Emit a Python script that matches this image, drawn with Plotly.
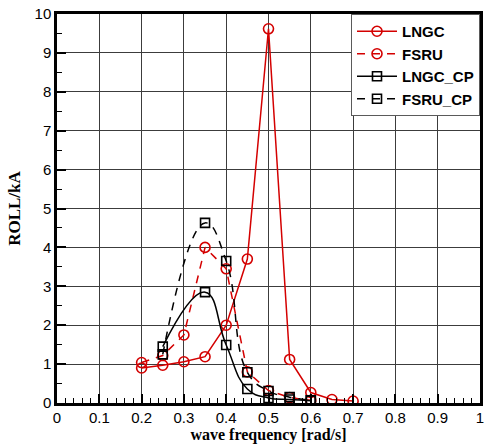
import plotly.graph_objects as go

freq_lngc = [0.2, 0.25, 0.3, 0.35, 0.4, 0.45, 0.5, 0.55, 0.6, 0.65, 0.7]
roll_lngc = [0.9, 0.97, 1.06, 1.19, 2.0, 3.7, 9.62, 1.12, 0.27, 0.09, 0.05]

freq_fsru = [0.2, 0.25, 0.3, 0.35, 0.4, 0.45, 0.5, 0.55, 0.6]
roll_fsru = [1.04, 1.22, 1.75, 4.0, 3.45, 0.8, 0.32, 0.14, 0.07]

freq_cp = [0.25, 0.35, 0.4, 0.45, 0.5, 0.55, 0.6]
roll_lngc_cp = [1.45, 2.85, 1.49, 0.36, 0.13, 0.09, 0.06]
roll_fsru_cp = [1.25, 4.63, 3.65, 0.79, 0.31, 0.15, 0.07]

x_ticks = [0, 0.1, 0.2, 0.3, 0.4, 0.5, 0.6, 0.7, 0.8, 0.9, 1]
x_tick_labels = ["0", "0.1", "0.2", "0.3", "0.4", "0.5", "0.6", "0.7", "0.8", "0.9", "1"]

RED = "rgb(212,0,0)"
BLACK = "black"

fig = go.Figure()
fig.add_trace(go.Scatter(
    x=freq_lngc, y=roll_lngc, name="LNGC", mode="lines+markers",
    line=dict(color=RED, width=1.5),
    marker=dict(symbol="circle-open", size=10, color=RED, line=dict(width=1.6, color=RED)),
))
fig.add_trace(go.Scatter(
    x=freq_fsru, y=roll_fsru, name="FSRU", mode="lines+markers",
    line=dict(color=RED, width=1.5, dash="8px,7px"),
    marker=dict(symbol="circle-open", size=10, color=RED, line=dict(width=1.6, color=RED)),
))
fig.add_trace(go.Scatter(
    x=freq_cp, y=roll_lngc_cp, name="LNGC_CP", mode="lines+markers",
    line=dict(color=BLACK, width=1.5, shape="spline", smoothing=1.3),
    marker=dict(symbol="square-open", size=9, color=BLACK, line=dict(width=1.6, color=BLACK)),
))
fig.add_trace(go.Scatter(
    x=freq_cp, y=roll_fsru_cp, name="FSRU_CP", mode="lines+markers",
    line=dict(color=BLACK, width=1.5, dash="8px,7px", shape="spline", smoothing=1.3),
    marker=dict(symbol="square-open", size=9, color=BLACK, line=dict(width=1.6, color=BLACK)),
))

grid = "rgb(60,60,60)"
fig.update_layout(
    width=485, height=444,
    margin=dict(l=57, r=2, t=14, b=41),
    paper_bgcolor="white", plot_bgcolor="white",
    showlegend=True,
    legend=dict(
        x=1, y=1, xanchor="right", yanchor="top",
        bgcolor="white", bordercolor="rgb(90,90,90)", borderwidth=1,
        font=dict(family="Liberation Sans, Arial", size=15, color="black", weight="bold"),
        tracegroupgap=0, itemwidth=40,
    ),
    xaxis=dict(
        range=[0, 1], tickvals=x_ticks, ticktext=x_tick_labels,
        showgrid=True, gridcolor=grid, gridwidth=1.2,
        showline=True, linecolor="black", linewidth=2.5, mirror=True,
        ticks="inside", ticklen=9, tickwidth=2, tickcolor="black",
        minor=dict(dtick=0.02, ticks="inside", ticklen=5, tickwidth=1.2, tickcolor="black", showgrid=False),
        tickfont=dict(family="Liberation Sans, Arial", size=15, color="black"),
        ticklabelstandoff=-1,
        zeroline=False,
        title=dict(text="wave frequency [rad/s]", standoff=3,
                   font=dict(family="Liberation Serif, Times New Roman", size=16, color="black", weight="bold")),
    ),
    yaxis=dict(
        range=[0, 10], dtick=1,
        showgrid=True, gridcolor=grid, gridwidth=1.2,
        showline=True, linecolor="black", linewidth=2.5, mirror=True,
        ticks="inside", ticklen=9, tickwidth=2, tickcolor="black",
        minor=dict(dtick=0.5, ticks="inside", ticklen=5, tickwidth=1.2, tickcolor="black", showgrid=False),
        tickfont=dict(family="Liberation Sans, Arial", size=15, color="black"),
        zeroline=False,
        title=dict(text="ROLL/kA", standoff=10,
                   font=dict(family="Liberation Serif, Times New Roman", size=17, color="black", weight="bold")),
    ),
)

fig.write_html("out.html")
